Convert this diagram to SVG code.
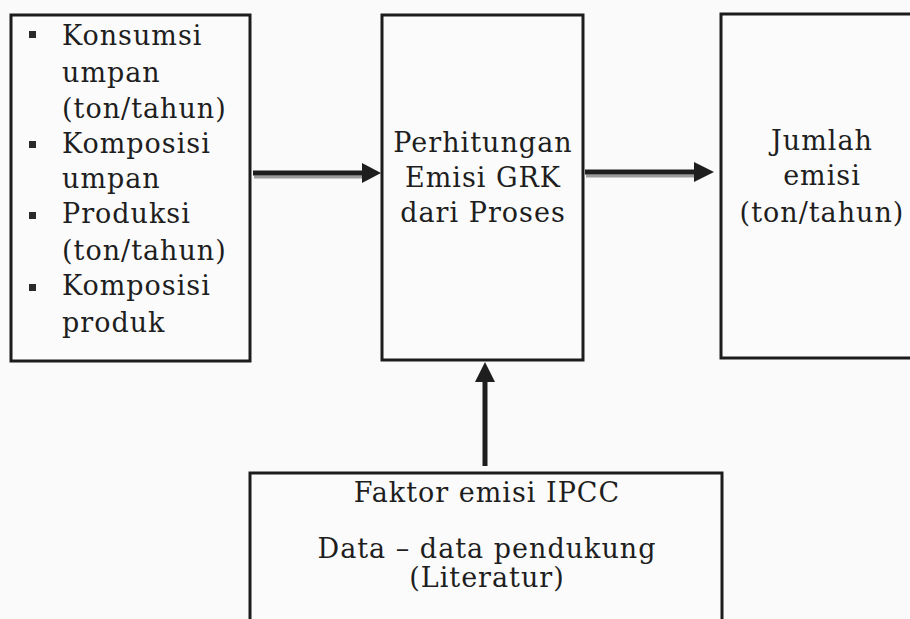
<svg xmlns="http://www.w3.org/2000/svg" width="910" height="619" viewBox="0 0 910 619">
<style>
.box{fill:#fbfbfb;stroke:#1c1c1c;stroke-width:3}
.t{font-family:"DejaVu Serif","Liberation Serif",serif;font-size:27px;letter-spacing:1px;fill:#1e1e1e}
.c{text-anchor:middle}
.arr{stroke:#1e1e1e;stroke-width:5;fill:none}
.sh{stroke:#9a9a9a;stroke-width:3;fill:none}
.head{fill:#1e1e1e}
.bul{fill:#2a2a2a}
</style>
<rect width="910" height="619" fill="#fafafa"/>
<g id="input">
<rect class="box" x="11" y="15" width="239" height="346"/>
<rect class="bul" x="29" y="31" width="7" height="7"/>
<rect class="bul" x="29" y="141" width="7" height="7"/>
<rect class="bul" x="29" y="212" width="7" height="7"/>
<rect class="bul" x="29" y="284" width="7" height="7"/>
<text class="t" x="62" y="45">Konsumsi</text>
<text class="t" x="62" y="82">umpan</text>
<text class="t" x="62" y="118">(ton/tahun)</text>
<text class="t" x="62" y="153">Komposisi</text>
<text class="t" x="62" y="188">umpan</text>
<text class="t" x="62" y="223">Produksi</text>
<text class="t" x="62" y="260">(ton/tahun)</text>
<text class="t" x="62" y="295">Komposisi</text>
<text class="t" x="62" y="332">produk</text>
</g>
<g id="process">
<rect class="box" x="382" y="15" width="201" height="345"/>
<text class="t c" x="483" y="152">Perhitungan</text>
<text class="t c" x="483" y="187">Emisi GRK</text>
<text class="t c" x="483" y="222">dari Proses</text>
</g>
<g id="output">
<rect class="box" x="721" y="14" width="210" height="344"/>
<text class="t c" x="822" y="150">Jumlah</text>
<text class="t c" x="822" y="185">emisi</text>
<text class="t c" x="822" y="222">(ton/tahun)</text>
</g>
<g id="factors">
<rect class="box" x="250" y="473" width="472" height="160"/>
<text class="t c" x="487" y="502">Faktor emisi IPCC</text>
<text class="t c" x="487" y="558">Data – data pendukung</text>
<text class="t c" x="487" y="587">(Literatur)</text>
</g>
<g id="connectors">
<line class="sh" x1="254" y1="177" x2="362" y2="177"/>
<line class="arr" x1="253" y1="173" x2="364" y2="173"/>
<polygon class="head" points="362,163 381,173 362,183"/>
<line class="sh" x1="586" y1="176" x2="694" y2="176"/>
<line class="arr" x1="585" y1="172" x2="696" y2="172"/>
<polygon class="head" points="694,162 714,172 694,182"/>
<line class="arr" x1="485" y1="466" x2="485" y2="380"/>
<polygon class="head" points="475,382 485,362 495,382"/>
</g>
</svg>
